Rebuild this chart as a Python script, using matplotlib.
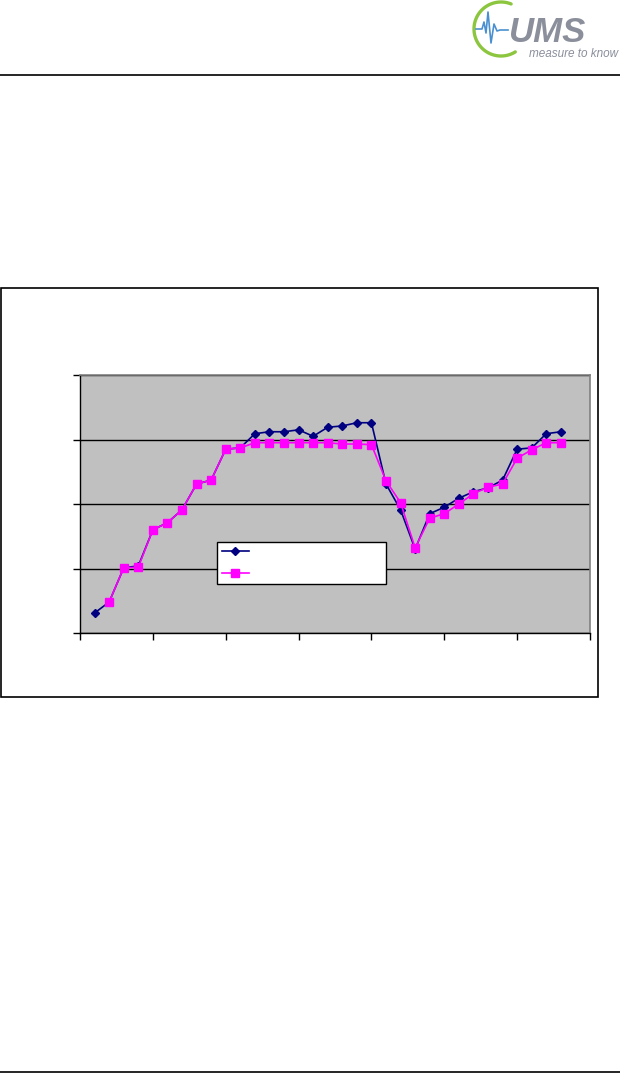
import numpy as np
import matplotlib.pyplot as plt
from matplotlib.patches import Rectangle
from matplotlib.lines import Line2D

# %%
# series (arbitrary units, axis 0..40)
blue = [3.1, 4.8, 10.1, 10.4, 16.0, 17.1, 19.1, 23.1, 23.7, 28.5, 28.7,
        30.9, 31.2, 31.2, 31.5, 30.5, 31.9, 32.1, 32.6, 32.6, 23.1, 19.1,
        13.0, 18.5, 19.5, 20.9, 21.9, 22.5, 23.7, 28.5, 28.7, 30.9, 31.2]
magenta = [np.nan, 4.8, 10.1, 10.2, 16.0, 17.1, 19.1, 23.1, 23.7, 28.5, 28.7,
           29.5, 29.5, 29.5, 29.5, 29.5, 29.5, 29.3, 29.3, 29.2, 23.6, 20.2,
           13.2, 17.8, 18.5, 20.0, 21.6, 22.6, 23.1, 27.1, 28.4, 29.5, 29.5]
x_pos = [0.2 * (i + 1) for i in range(len(blue))]
x_ticks = [0, 1, 2, 3, 4, 5, 6, 7]
y_ticks = [0, 10, 20, 30, 40]

# %%
W, H = 620, 1074
fig = plt.figure(figsize=(W / 100, H / 100), dpi=100)

# page decorations drawn in pixel coords on an overlay axes
page = fig.add_axes([0, 0, 1, 1])
page.set_xlim(0, W)
page.set_ylim(H, 0)
page.axis('off')
page.plot([0, 620], [75, 75], color='black', lw=1.2)      # header rule
page.plot([0, 620], [1072, 1072], color='black', lw=1.2)  # footer rule
page.add_patch(Rectangle((1, 288), 597, 409, fill=False, ec='black', lw=1.2))

# logo
t = np.radians(np.linspace(68, 302, 80))
page.plot(501 + 27 * np.cos(t), 29 - 27 * np.sin(t), color='#8cc63f', lw=2.4,
          solid_capstyle='round')
px = [476, 482, 484, 486, 488, 491, 494, 497, 500, 508]
py = [29, 29, 22, 33, 12, 43, 24, 31, 30, 30]
page.plot(px, py, color='#4a90d0', lw=1.2)
page.text(509, 42, 'UMS', fontsize=25, fontweight='bold', style='italic',
          family='Liberation Sans', color='#8a8f9b', va='baseline', ha='left')
page.text(618, 57, 'measure to know', fontsize=8.5, style='italic',
          family='Liberation Sans', color='#8a8f9b', va='baseline', ha='right')

# %%
ax = fig.add_axes([80 / W, 1 - 633 / H, 510 / W, 258 / H])
ax.set_facecolor('#c0c0c0')
ax.plot(x_pos, blue, color='#000080', marker='D', markersize=4.5, lw=1.2)
ax.plot(x_pos, magenta, color='#ff00ff', marker='s', markersize=5.5, lw=1.2)
ax.set_xlim(0, 7)
ax.set_ylim(0, 40)
ax.set_xticks(x_ticks)
ax.set_yticks(y_ticks)
ax.set_xticklabels([])
ax.set_yticklabels([])
ax.tick_params(direction='out', length=5, width=1, color='black')
ax.grid(axis='y', color='black', lw=1)
ax.set_axisbelow(True)
for s in ['top', 'right']:
    ax.spines[s].set_color('#808080')
    ax.spines[s].set_linewidth(1.2)
for s in ['left', 'bottom']:
    ax.spines[s].set_color('black')
    ax.spines[s].set_linewidth(1)

handles = [Line2D([], [], color='#000080', marker='D', markersize=4.5, lw=1.2),
           Line2D([], [], color='#ff00ff', marker='s', markersize=5.5, lw=1.2)]
leg = ax.legend(handles, [' ', ' '], loc='lower left', mode='expand',
                bbox_to_anchor=(137 / 510, (633 - 584) / 258, 169 / 510, 41 / 258),
                frameon=True, fancybox=False, framealpha=1, edgecolor='black',
                handlelength=2.4, borderpad=0.45, labelspacing=1.05, fontsize=8,
                handletextpad=0.5, borderaxespad=0)
leg.get_frame().set_linewidth(1)

fig.savefig('out.png', dpi=100)
